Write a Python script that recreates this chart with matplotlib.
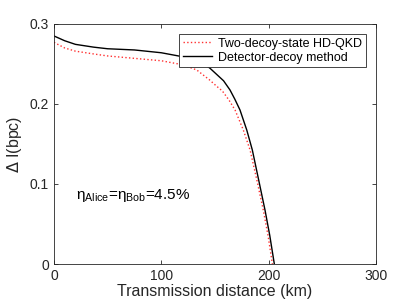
import matplotlib
matplotlib.use('Agg')
import matplotlib.pyplot as plt

plt.rcParams['font.family'] = ['Liberation Sans', 'DejaVu Sans']

# transmission distance (km) and Delta I (bpc)
dist_two = [0, 10, 20, 37, 50, 75, 100, 120, 133, 145, 150, 157, 163, 168.7, 176.4, 182.7,
            189, 195, 199.5, 203.5]
di_two   = [0.277, 0.270, 0.266, 0.2625, 0.260, 0.257, 0.254, 0.249, 0.2425, 0.230, 0.224,
            0.216, 0.205, 0.1925, 0.1675, 0.1425, 0.105, 0.0675, 0.035, 0.0]

dist_det = [0, 10, 20, 37, 50, 75, 100, 120, 130, 140, 145.4, 158, 164, 168.5, 173.3, 179.6,
            184.8, 190.4, 196.6, 201, 205.3]
di_det   = [0.285, 0.279, 0.2745, 0.271, 0.269, 0.2675, 0.264, 0.259, 0.2555, 0.250, 0.2446,
            0.229, 0.2175, 0.206, 0.1925, 0.1675, 0.1425, 0.107, 0.0675, 0.036, 0.0]

fig = plt.figure(figsize=(4.15, 3.07), dpi=100)
ax = fig.add_axes([0.130, 0.140, 0.776, 0.782])

ax.plot(dist_two, di_two, ':', color='#ff3030', lw=1.0, label='Two-decoy-state HD-QKD')
ax.plot(dist_det, di_det, '-', color='black', lw=1.0, label='Detector-decoy method')

ax.set_xlim(0, 300)
ax.set_ylim(0, 0.3)
ax.set_xticks([0, 100, 200, 300])
ax.set_yticks([0, 0.1, 0.2, 0.3])
ax.set_yticklabels(['0', '0.1', '0.2', '0.3'])
ax.tick_params(direction='in', top=True, right=True, labelsize=10, colors='#262626', length=3, width=0.6)
for s in ax.spines.values():
    s.set_color('#262626')
    s.set_linewidth(0.6)

ax.set_xlabel('Transmission distance (km)', fontsize=11.5, color='#262626', labelpad=1)
ax.set_ylabel(r'$\Delta$ I(bpc)', fontsize=11.5, color='#262626', labelpad=4)

ax.text(21, 0.085, r'$\mathregular{\eta_{Alice}}$=$\mathregular{\eta_{Bob}}$=4.5%', fontsize=11, va='center')

leg = ax.legend(loc='upper right', fontsize=9, fancybox=False, framealpha=1,
                edgecolor='#262626', borderaxespad=0.8, handlelength=2.3,
                borderpad=0.3, labelspacing=0.15, handletextpad=0.5)
leg.get_frame().set_linewidth(0.6)

fig.savefig('out.png', dpi=100)
